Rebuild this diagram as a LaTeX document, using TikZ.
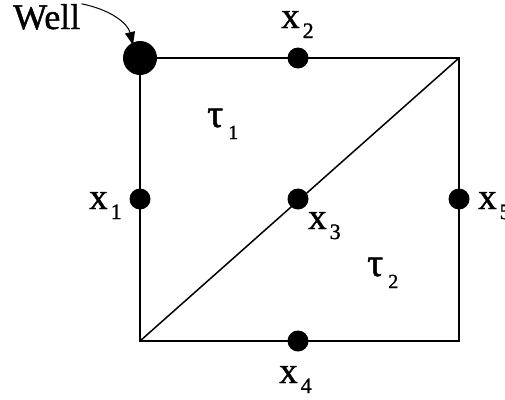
\documentclass[tikz,border=0pt]{standalone}
\usepackage{fontspec}
\setmainfont{Liberation Serif}
\newfontfamily\tnr[FakeBold=1.2]{Liberation Serif}
\usetikzlibrary{arrows.meta}
\newcommand{\mylbl}[2]{\tnr\fontsize{37}{40}\selectfont #1\hspace{3pt}\raisebox{-10pt}{\fontsize{22}{22}\selectfont #2}}
\newcommand{\mytau}[2]{\tnr\fontsize{40}{42}\selectfont #1\hspace{5pt}\raisebox{-12pt}{\fontsize{20}{20}\selectfont #2}}
\begin{document}
\begin{tikzpicture}[x=1pt,y=-1pt,
  edge/.style={line width=1.7pt},
  dot/.style={circle,fill=black,inner sep=0pt,minimum size=21pt},
  bigdot/.style={circle,fill=black,inner sep=0pt,minimum size=34pt},
  lbl/.style={anchor=base west,inner sep=0pt}]
\useasboundingbox (0,0) rectangle (505,399);
\coordinate (tl) at (140,58);
\coordinate (tr) at (459,58);
\coordinate (bl) at (140,341);
\coordinate (br) at (459,341);
\draw[edge] (tl) -- (tr) -- (br) -- (bl) -- cycle;
\draw[line width=1.5pt] (bl) -- (tr);
\node[bigdot] (well) at (tl) {};
\node[dot] (d2) at (298,58) {};
\node[dot] (d1) at (140,199) {};
\node[dot] (d3) at (298,199) {};
\node[dot] (d5) at (459,199) {};
\node[dot] (d4) at (298,341) {};
\node[lbl] (welltext) at (13,29) {\tnr\fontsize{36}{40}\selectfont Well};
\coordinate (wtip) at (133,45);
\draw[line width=1pt,-{Triangle[length=13pt,width=10pt]}] (welltext.east) ++(1,-13) .. controls (112,10) and (128,24) .. (wtip);
\node[lbl] (l1) at (89,209) {\mylbl{x}{1}};
\node[lbl] (l2) at (281,28) {\mylbl{x}{2}};
\node[lbl] (l3) at (308,229) {\mylbl{x}{3}};
\node[lbl] (l4) at (279,383) {\mylbl{x}{4}};
\node[lbl] (l5) at (478,209) {\mylbl{x}{5}};
\node[lbl] (t1) at (207,127) {\mytau{τ}{1}};
\node[lbl] (t2) at (367,276) {\mytau{τ}{2}};
\end{tikzpicture}
\end{document}
